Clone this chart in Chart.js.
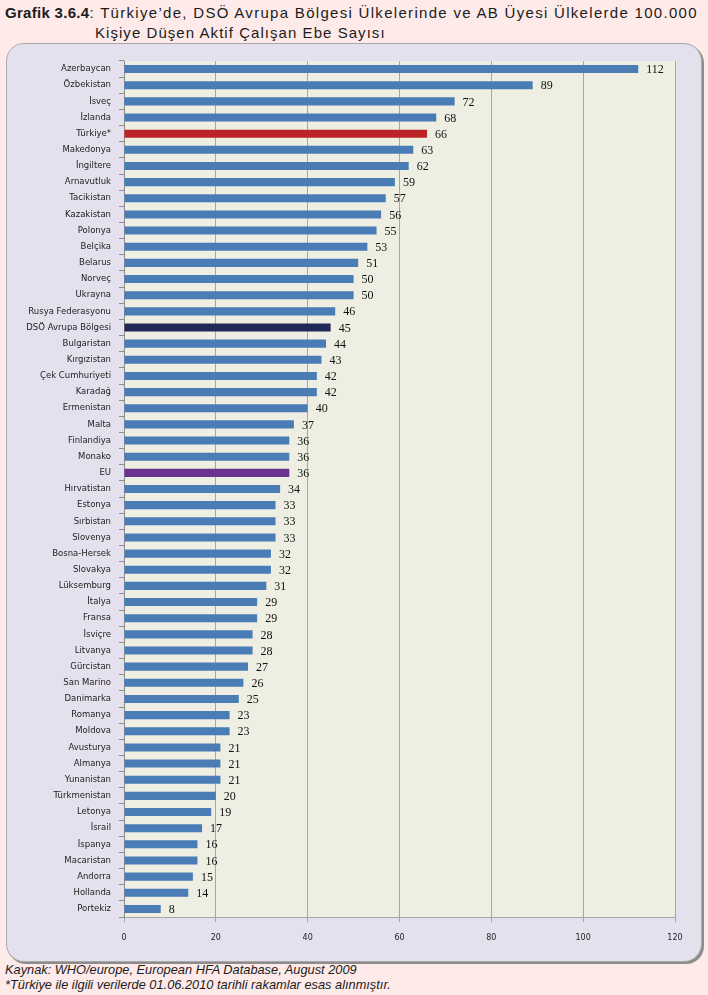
<!DOCTYPE html>
<html>
<head>
<meta charset="utf-8">
<script src="https://cdn.jsdelivr.net/npm/chart.js@4.4.1/dist/chart.umd.min.js"></script>
<style>
  html, body { margin: 0; padding: 0; }
  body { width: 708px; height: 995px; background: #fdeae9; position: relative; overflow: hidden; font-family: 'Liberation Sans', Arial, sans-serif; }
  .title { position: absolute; left: 5px; top: 3px; font-size: 15px; letter-spacing: 1.3px; color: #1c1c1c; line-height: 20px; white-space: nowrap; }
  .title b { letter-spacing: 0.3px; }
  .title .l2 { padding-left: 90px; letter-spacing: 1.05px; }
  .frame { position: absolute; left: 6px; top: 43px; width: 694px; height: 917px; background: #e5e0ed;
           border: 1px solid #a8a8a8; border-radius: 18px; box-shadow: 2px 2px 0 #8c8c8c; }
  #wrap { position: absolute; left: 6px; top: 43px; width: 696px; height: 919px; }
  .foot { position: absolute; left: 5px; top: 962px; font-size: 12.8px; font-style: italic; color: #1c1c1c; line-height: 15px; white-space: nowrap; }
</style>
</head>
<body>
<div class="title"><b>Grafik 3.6.4</b>: Türkiye’de, DSÖ Avrupa Bölgesi Ülkelerinde ve AB Üyesi Ülkelerde 100.000<br><span class="l2">Kişiye Düşen Aktif Çalışan Ebe Sayısı</span></div>
<div class="frame"></div>
<div id="wrap"><canvas id="chart"></canvas></div>
<div class="foot">Kaynak: WHO/europe, European HFA Database, August 2009<br>*Türkiye ile ilgili verilerde 01.06.2010 tarihli rakamlar esas alınmıştır.</div>
<script>
// categories, top to bottom
const countries = [
  'Azerbaycan', 'Özbekistan', 'İsveç', 'İzlanda', 'Türkiye*', 'Makedonya', 'İngiltere', 'Arnavutluk',
  'Tacikistan', 'Kazakistan', 'Polonya', 'Belçika', 'Belarus', 'Norveç', 'Ukrayna', 'Rusya Federasyonu',
  'DSÖ Avrupa Bölgesi', 'Bulgaristan', 'Kırgızistan', 'Çek Cumhuriyeti', 'Karadağ', 'Ermenistan', 'Malta',
  'Finlandiya', 'Monako', 'EU', 'Hırvatistan', 'Estonya', 'Sırbistan', 'Slovenya', 'Bosna-Hersek',
  'Slovakya', 'Lüksemburg', 'İtalya', 'Fransa', 'İsviçre', 'Litvanya', 'Gürcistan', 'San Marino',
  'Danimarka', 'Romanya', 'Moldova', 'Avusturya', 'Almanya', 'Yunanistan', 'Türkmenistan', 'Letonya',
  'İsrail', 'İspanya', 'Macaristan', 'Andorra', 'Hollanda', 'Portekiz'
];

// midwives per 100.000 people
const midwives = [
  112, 89, 72, 68, 66, 63, 62, 59,
  57, 56, 55, 53, 51, 50, 50, 46,
  45, 44, 43, 42, 42, 40, 37,
  36, 36, 36, 34, 33, 33, 33, 32,
  32, 31, 29, 29, 28, 28, 27, 26,
  25, 23, 23, 21, 21, 21, 20, 19,
  17, 16, 16, 15, 14, 8
];

const xTicks = [0, 20, 40, 60, 80, 100, 120];

// highlighted bars
const highlight = { 'Türkiye*': '#be2229', 'DSÖ Avrupa Bölgesi': '#1f2857', 'EU': '#6a338f' };
const barBlue = '#4a7cb6';

const plotBg = {
  id: 'plotBg',
  beforeDraw(chart) {
    const { ctx, chartArea: a } = chart;
    ctx.save();
    ctx.fillStyle = '#eeeee3';
    ctx.fillRect(a.left, a.top, a.right - a.left, a.bottom - a.top);
    ctx.restore();
  }
};

// value at the end of each bar
const valueLabels = {
  id: 'valueLabels',
  afterDatasetsDraw(chart) {
    const { ctx } = chart;
    const meta = chart.getDatasetMeta(0);
    ctx.save();
    ctx.font = '12px "Liberation Serif", "DejaVu Serif", serif';
    ctx.fillStyle = '#111';
    ctx.textBaseline = 'middle';
    meta.data.forEach((bar, i) => {
      ctx.fillText(String(midwives[i]), bar.x + 8, bar.y + 1);
    });
    ctx.restore();
  }
};

new Chart(document.getElementById('chart'), {
  type: 'bar',
  data: {
    labels: countries,
    datasets: [{
      data: midwives,
      backgroundColor: countries.map(c => highlight[c] || barBlue),
      borderWidth: 0,
      barPercentage: 0.5,
      categoryPercentage: 1
    }]
  },
  options: {
    indexAxis: 'y',
    responsive: true,
    maintainAspectRatio: false,
    animation: false,
    layout: { padding: { top: 18, right: 27, left: 0, bottom: 0 } },
    plugins: { legend: { display: false }, tooltip: { enabled: false } },
    scales: {
      x: {
        min: 0, max: 120,
        afterBuildTicks: s => { s.ticks = xTicks.map(v => ({ value: v })); },
        afterFit: s => { s.height = 45; },
        grid: { color: '#a6a6a6', lineWidth: 1, tickLength: 5, drawTicks: true },
        border: { color: '#a6a6a6' },
        ticks: { color: '#222', font: { family: 'DejaVu Sans', size: 8 }, padding: 11, maxRotation: 0 }
      },
      y: {
        afterFit: s => { s.width = 118; },
        grid: { display: true, drawOnChartArea: false, offset: true, color: '#8c8c8c', tickLength: 5 },
        border: { color: '#8c8c8c' },
        ticks: { color: '#222', font: { family: 'DejaVu Sans', size: 8.5 }, padding: 8, autoSkip: false }
      }
    }
  },
  plugins: [plotBg, valueLabels]
});
</script>
</body>
</html>
